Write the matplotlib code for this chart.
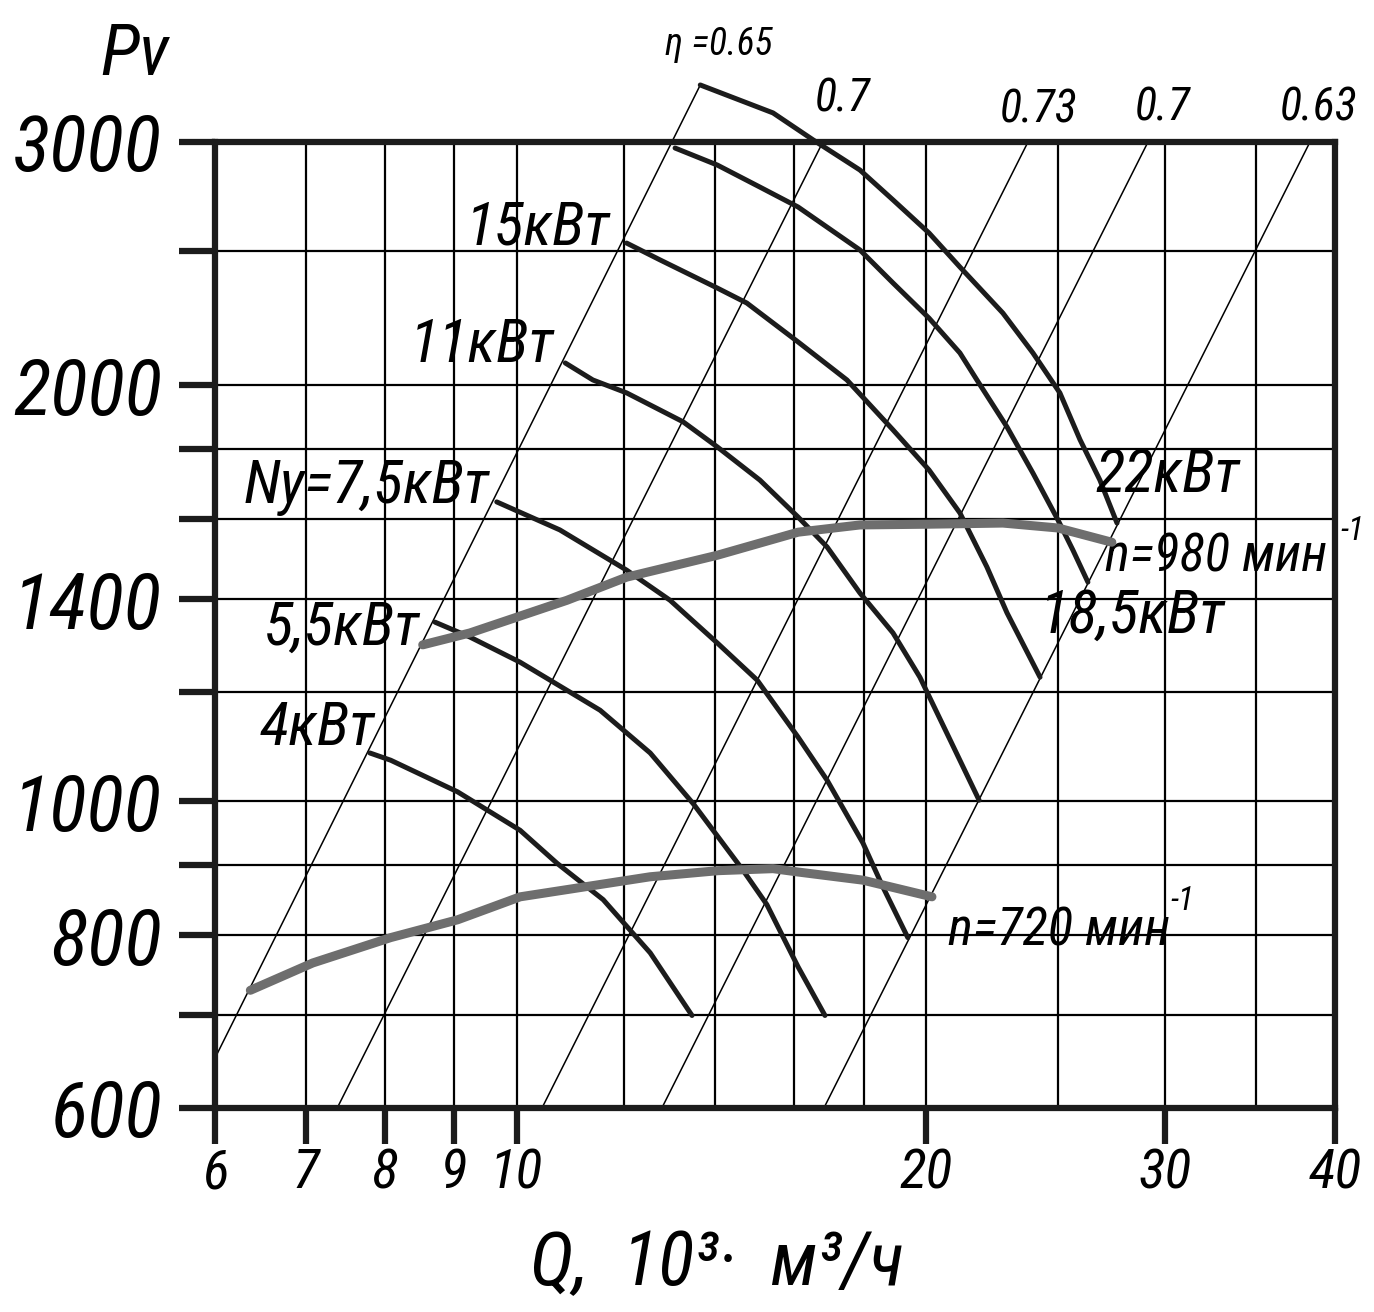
import numpy as np
import matplotlib
matplotlib.use("Agg")
import matplotlib.pyplot as plt
from matplotlib.ticker import FixedLocator, FixedFormatter, NullFormatter, NullLocator

# fan chart: pressure Pv against flow Q, both axes logarithmic

plt.rcParams['font.family'] = ['Roboto Condensed', 'DejaVu Sans']
plt.rcParams['font.style'] = 'italic'
plt.rcParams['font.stretch'] = 'condensed'

Q_MIN, Q_MAX = 6, 40
P_MIN, P_MAX = 600, 3000

q_grid = [6, 7, 8, 9, 10, 12, 14, 16, 18, 20, 25, 30, 35, 40]
q_ticks = [6, 7, 8, 9, 10, 20, 30, 40]
p_grid = [600, 700, 800, 900, 1000, 1200, 1400, 1600, 1800, 2000, 2500, 3000]
p_shown = [600, 800, 1000, 1400, 2000, 3000]

# efficiency lines, end points
eta_names = ["η =0.65", "0.7", "0.73", "0.7", "0.63"]
eta_q = [(6.0, 13.65), (7.38, 16.8), (10.44, 23.78), (12.79, 29.14), (16.83, 38.34)]
eta_p = [(652, 3299), (600, 3000), (600, 3000), (600, 3000), (600, 3000)]

# motor power curves
q_22 = [13.65, 15.44, 16.53, 17.89, 18.92, 20.11, 21.19, 22.79, 23.98, 25.1, 25.97, 26.86, 27.65]
p_22 = [3299, 3149, 3010, 2863, 2724, 2578, 2436, 2256, 2111, 1975, 1827, 1708, 1590]
q_185 = [13.08, 14.05, 15.1, 16.11, 17.89, 18.92, 20.11, 21.19, 21.81, 22.95, 23.98, 25.02, 25.66, 26.32]
p_185 = [2970, 2887, 2783, 2692, 2506, 2372, 2237, 2111, 2018, 1866, 1728, 1598, 1520, 1441]
q_15 = [12.05, 12.75, 14.05, 14.77, 16.11, 17.5, 18.92, 20.11, 21.19, 22.18, 22.95, 24.27]
p_15 = [2535, 2465, 2352, 2294, 2150, 2018, 1857, 1737, 1617, 1478, 1369, 1230]
q_11 = [10.86, 11.38, 12.05, 13.26, 14.05, 15.1, 16.11, 16.92, 17.89, 18.92, 19.8, 20.84, 21.89]
p_11 = [2076, 2018, 1975, 1882, 1805, 1708, 1606, 1528, 1415, 1324, 1230, 1108, 1002]
q_75 = [9.67, 10.76, 12.05, 12.97, 14.05, 15.03, 16.11, 16.92, 17.98, 18.6, 19.4]
p_75 = [1647, 1572, 1470, 1398, 1302, 1224, 1113, 1036, 933, 867, 797]
q_55 = [8.71, 9.24, 10.06, 10.82, 11.52, 12.54, 13.49, 14.67, 15.28, 16.11, 16.86]
p_55 = [1348, 1315, 1261, 1208, 1164, 1084, 996, 892, 842, 759, 700]
q_4 = [7.8, 8.08, 9.05, 10.06, 10.71, 11.58, 12.54, 13.46]
p_4 = [1084, 1071, 1016, 953, 902, 849, 777, 700]

# speed curves
q_980 = [8.53, 9.24, 10.89, 12.05, 14.05, 16.11, 17.89, 20.11, 22.79, 25.02, 27.41]
p_980 = [1298, 1324, 1398, 1453, 1507, 1566, 1585, 1587, 1590, 1577, 1540]
q_720 = [6.37, 7.08, 8.08, 9.05, 10.06, 12.54, 14.07, 15.44, 16.11, 17.98, 20.21]
p_720 = [730, 764, 797, 821, 853, 882, 891, 894, 889, 877, 853]

BLACK = '#1c1c1c'
GREY = '#6e6e6e'

fig = plt.figure(figsize=(13.74, 13.12), dpi=100)
ax = fig.add_axes([215 / 1374, 1 - 1108 / 1312, 1120 / 1374, 966 / 1312])
ax.set_xscale('log')
ax.set_yscale('log')
ax.set_xlim(Q_MIN, Q_MAX)
ax.set_ylim(P_MIN, P_MAX)

ax.xaxis.set_major_locator(FixedLocator(q_ticks))
ax.xaxis.set_major_formatter(FixedFormatter([str(q) for q in q_ticks]))
ax.xaxis.set_minor_locator(FixedLocator([q for q in q_grid if q not in q_ticks]))
ax.xaxis.set_minor_formatter(NullFormatter())
ax.yaxis.set_major_locator(FixedLocator(p_grid))
ax.yaxis.set_major_formatter(FixedFormatter([str(p) if p in p_shown else '' for p in p_grid]))
ax.yaxis.set_minor_locator(NullLocator())

ax.tick_params(axis='x', which='major', direction='out', length=26, width=4.5,
               color=BLACK, labelsize=40, pad=2)
ax.tick_params(axis='x', which='minor', length=0)
ax.tick_params(axis='y', which='major', direction='out', length=26, width=4.5,
               color=BLACK, labelsize=56, pad=12)
ax.grid(True, which='both', color='black', lw=1.6)
ax.set_axisbelow(True)
for s in ax.spines.values():
    s.set_linewidth(4.5)
    s.set_color(BLACK)

# efficiency lines
for qq, pp in zip(eta_q, eta_p):
    ax.plot(qq, pp, color='black', lw=1.1, clip_on=False, zorder=2)

# power curves
for qq, pp in [(q_22, p_22), (q_185, p_185), (q_15, p_15), (q_11, p_11),
               (q_75, p_75), (q_55, p_55), (q_4, p_4)]:
    ax.plot(qq, pp, color=BLACK, lw=3.6, solid_capstyle='round',
            solid_joinstyle='round', clip_on=False, zorder=3)

# speed curves
for qq, pp in [(q_980, p_980), (q_720, p_720)]:
    ax.plot(qq, pp, color=GREY, lw=6.5, solid_capstyle='round',
            solid_joinstyle='round', zorder=4)

# labels
lab = dict(color='black', fontsize=44, va='baseline')
ax.text(11.72, 2527, "15кВт", ha='right', **lab)
ax.text(10.67, 2079, "11кВт", ha='right', **lab)
ax.text(9.56, 1644, "Nу=7,5кВт", ha='right', **lab)
ax.text(8.49, 1298, "5,5кВт", ha='right', **lab)
ax.text(7.87, 1098, "4кВт", ha='right', **lab)
ax.text(26.64, 1675, "22кВт", ha='left', **lab)
ax.text(24.27, 1324, "18,5кВт", ha='left', **lab)

ax.text(27.1, 1466, "n=980 мин", ha='left', va='baseline', fontsize=38)
ax.text(40.34, 1545, "-1", ha='left', va='baseline', fontsize=24)
ax.text(20.77, 787, "n=720 мин", ha='left', va='baseline', fontsize=38)
ax.text(30.25, 834, "-1", ha='left', va='baseline', fontsize=24)

eta_pos = [(12.86, 3468), (16.58, 3155), (22.68, 3097), (28.5, 3110), (36.4, 3110)]
for name, (x, y) in zip(eta_names, eta_pos):
    ax.text(x, y, name, ha='left', va='baseline', fontsize=33 if name != eta_names[0] else 27)

fig.text(100 / 1374, 1 - 75 / 1312, "Pv", fontsize=52, ha='left', va='baseline')
fig.text(530 / 1374, 1 - 1285 / 1312, "Q,  10³·  м³/ч", fontsize=54, ha='left', va='baseline')

fig.savefig("out.png", dpi=100)
